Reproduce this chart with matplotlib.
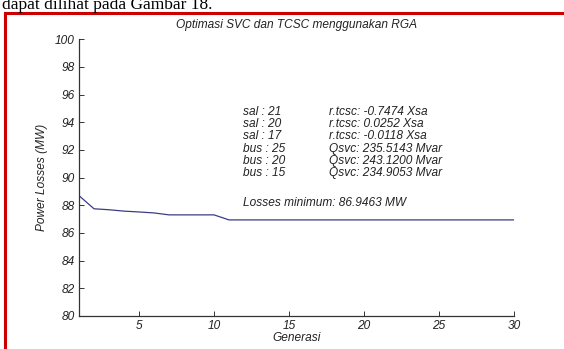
import matplotlib
matplotlib.use("Agg")
import matplotlib.pyplot as plt
from matplotlib.lines import Line2D

generations = list(range(1, 31))
losses = [88.70, 87.75, 87.68, 87.58, 87.52, 87.45, 87.31, 87.31, 87.31, 87.31] + [86.9463] * 20

col_left = ["sal : 21", "sal : 20", "sal : 17", "bus : 25", "bus : 20", "bus : 15"]
col_right = ["r.tcsc: -0.7474 Xsa", "r.tcsc: 0.0252 Xsa", "r.tcsc: -0.0118 Xsa",
             "Qsvc: 235.5143 Mvar", "Qsvc: 243.1200 Mvar", "Qsvc: 234.9053 Mvar"]
min_text = "Losses minimum: 86.9463 MW"
title = "Optimasi SVC dan TCSC menggunakan RGA"
caption = "dapat dilihat pada Gambar 18."

plt.rcParams["font.family"] = ["Liberation Sans", "DejaVu Sans"]
plt.rcParams["font.style"] = "italic"

W, H = 564, 349
FS = 8.6
fig = plt.figure(figsize=(W / 100, H / 100), dpi=100)

# Page text above the framed figure, cut off at the top
fig.text(2 / W, 1 - 9 / H, caption, family="Liberation Serif", style="normal",
         fontsize=12.5, va="baseline", ha="left", color="black")

# Red frame round the figure
fig.add_artist(Line2D([5 / W, 5 / W], [0, 1 - 12.6 / H], color="#cc0000", lw=2.2,
                      transform=fig.transFigure))
fig.add_artist(Line2D([5 / W, 1], [1 - 12.6 / H, 1 - 12.6 / H], color="#cc0000", lw=2.2,
                      transform=fig.transFigure))

ax = fig.add_axes([79 / W, (H - 316) / H, (514 - 79) / W, (316 - 39.3) / H])
ax.plot(generations, losses, color="#3c3c86", lw=0.9)

ax.set_xlim(1, 30)
ax.set_ylim(80, 100)
ax.set_xticks([5, 10, 15, 20, 25, 30])
ax.set_yticks(range(80, 101, 2))
for side in ["top", "right"]:
    ax.spines[side].set_visible(False)
for side in ["left", "bottom"]:
    ax.spines[side].set_color("#333333")
    ax.spines[side].set_linewidth(0.9)
ax.tick_params(direction="in", length=3.5, width=0.7, labelsize=FS,
               colors="#333333", labelcolor="#222222", pad=3)

ax.set_title(title, fontsize=FS, color="#222222", pad=8)
ax.set_xlabel("Generasi", fontsize=FS, color="#222222", labelpad=0)
ax.set_ylabel("Power Losses (MW)", fontsize=FS, color="#222222", labelpad=5)

# Annotation block
y0 = 94.77
step = 0.89
for i, (a, b) in enumerate(zip(col_left, col_right)):
    ax.text(11.93, y0 - i * step, a, fontsize=FS, va="center", color="#222222")
    ax.text(17.67, y0 - i * step, b, fontsize=FS, va="center", color="#222222")
ax.text(11.93, 88.19, min_text, fontsize=FS, va="center", color="#222222")

fig.savefig("out.png", dpi=100)
